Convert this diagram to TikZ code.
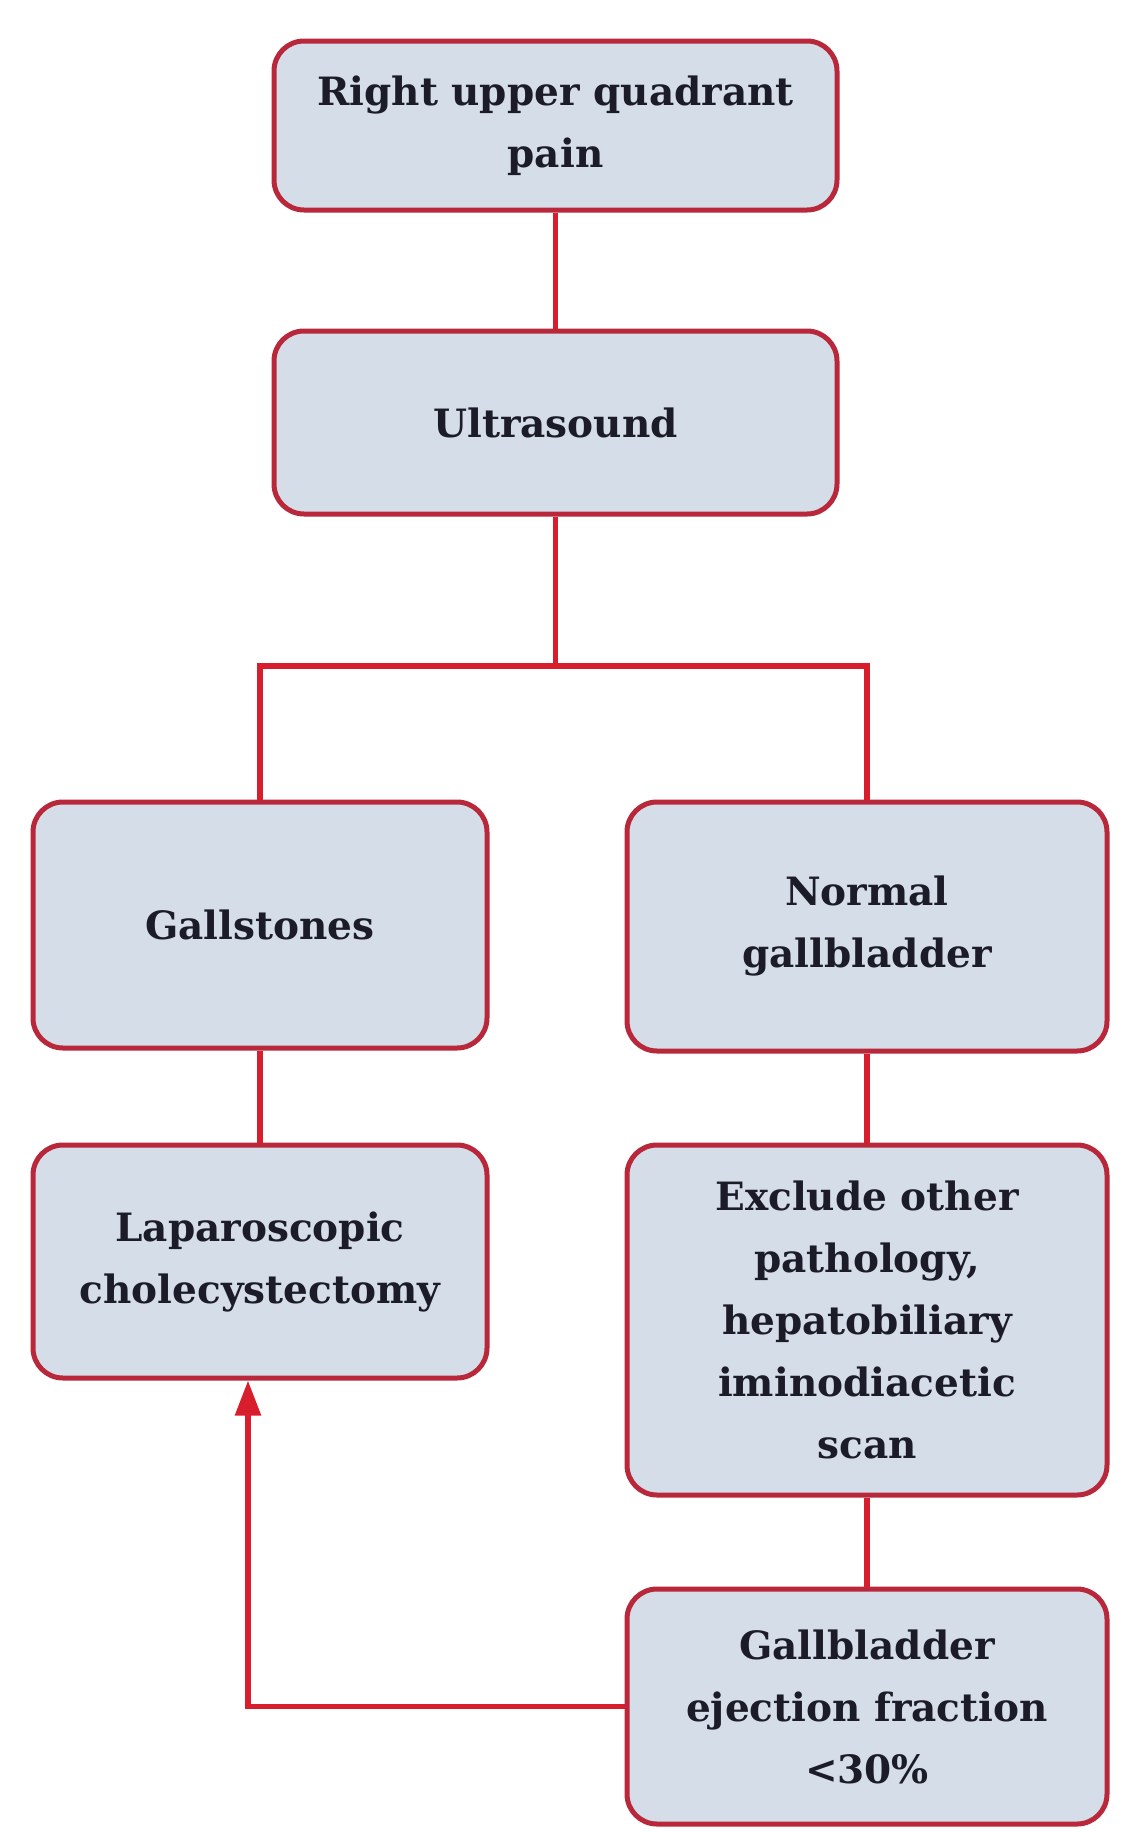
\documentclass[tikz,border=0pt]{standalone}
\usepackage{fontspec}
\setmainfont{DejaVu Serif}
\usetikzlibrary{arrows.meta}
\definecolor{FlowRed}{HTML}{D81E2C}
\definecolor{BoxRed}{HTML}{B8283A}
\definecolor{BoxFill}{HTML}{D5DEE8}
\definecolor{InkDark}{HTML}{1C1C28}

\begin{document}
\begin{tikzpicture}[x=1pt, y=-1pt,
    stepbox/.style={draw=BoxRed, line width=5pt, fill=BoxFill, rounded corners=30pt,
      align=center, text=InkDark, inner sep=0pt,
      font=\fontsize{39}{62}\selectfont\bfseries},
    link/.style={draw=FlowRed, line width=5.5pt}]
        \useasboundingbox (0,0) rectangle (1139,1832);

        % Start
        \node[stepbox, minimum width=563, minimum height=169] (ruq) at (555.5,125.5)
          {Right upper quadrant\\pain};

        % Ultrasound
        \node[stepbox, minimum width=563, minimum height=183] (us) at (555.5,422.5) {Ultrasound};

        % Gallstones branch
        \node[stepbox, minimum width=454, minimum height=246] (gall) at (260,925) {Gallstones};
        \node[stepbox, minimum width=454, minimum height=233] (lap) at (260,1261.5)
          {Laparoscopic\\cholecystectomy};

        % Normal branch
        \node[stepbox, minimum width=480, minimum height=249] (normal) at (867,926.5)
          {Normal\\gallbladder};
        \node[stepbox, minimum width=480, minimum height=350] (excl) at (867,1320)
          {Exclude other\\pathology,\\hepatobiliary\\iminodiacetic\\scan};
        \node[stepbox, minimum width=480, minimum height=235] (gbef) at (867,1706.5)
          {Gallbladder\\ejection fraction\\<30\%};

        % Connectors
        \coordinate (split) at (555.5,666);
        \draw[link] (ruq.south) -- (us.north);
        \draw[link] (us.south) -- (split);
        \draw[link] (gall.north) |- (split) -| (normal.north);
        \draw[link] (gall.south) -- (lap.north);
        \draw[link] (normal.south) -- (excl.north);
        \draw[link] (excl.south) -- (gbef.north);
        \draw[link, -{Triangle[width=25pt, length=35pt]}]
          (gbef.west) -| ([xshift=-12pt]lap.south);
      \end{tikzpicture}
\end{document}
